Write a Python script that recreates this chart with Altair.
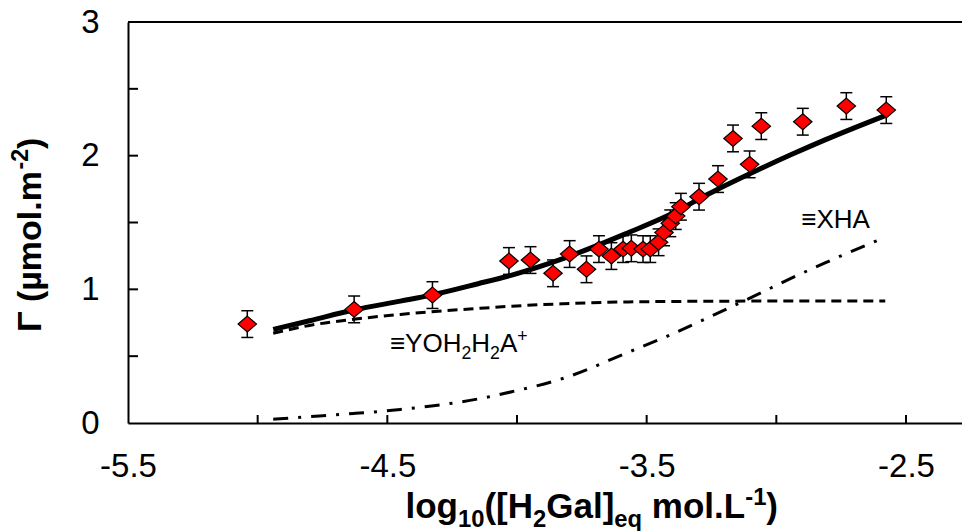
import altair as alt
import pandas as pd

FONT = "Liberation Sans"

# Measured surface excess (points with error bars)
obs_x = [-5.04, -4.628, -4.326, -4.031, -3.948, -3.861, -3.797, -3.732, -3.684,
         -3.636, -3.591, -3.559, -3.514, -3.486, -3.454, -3.433, -3.409, -3.388,
         -3.368, -3.298, -3.225, -3.167, -3.103, -3.058, -2.898, -2.730, -2.576]
obs_y = [0.74, 0.85, 0.957, 1.212, 1.219, 1.120, 1.264, 1.150, 1.301,
         1.249, 1.301, 1.307, 1.301, 1.301, 1.352, 1.426, 1.494, 1.548,
         1.618, 1.693, 1.825, 2.129, 1.935, 2.221, 2.254, 2.371, 2.341]
obs_err = [0.1, 0.1, 0.1, 0.1, 0.1, 0.1, 0.1, 0.1, 0.1,
           0.1, 0.1, 0.1, 0.1, 0.1, 0.1, 0.1, 0.1, 0.1,
           0.1, 0.1, 0.1, 0.1, 0.1, 0.1, 0.1, 0.1, 0.1]

# Surface complexation model: total and the two surface species
model_x = [-4.94, -4.80, -4.63, -4.45, -4.33, -4.15, -4.02, -3.82, -3.57,
           -3.42, -3.25, -3.08, -2.94, -2.81, -2.58]
model_total = [0.700, 0.765, 0.845, 0.912, 0.957, 1.042, 1.107, 1.232, 1.425,
               1.550, 1.725, 1.885, 2.010, 2.120, 2.300]
model_yoh = [0.671, 0.730, 0.776, 0.812, 0.832, 0.857, 0.874, 0.892, 0.906,
             0.909, 0.911, 0.912, 0.912, 0.912, 0.912]
model_xha = [0.028, 0.047, 0.071, 0.101, 0.127, 0.180, 0.234, 0.335, 0.530,
             0.650, 0.800, 0.955, 1.085, 1.200, 1.390]

x_label_values = [-5.5, -4.5, -3.5, -2.5]
x_tick_values = [-5.0, -4.5, -4.0, -3.5, -3.0, -2.5]
y_label_values = [0, 1, 2, 3]
y_tick_values = [0.5, 1.0, 1.5, 2.0, 2.5]

W, H = 834, 401
xs = alt.Scale(domain=[-5.5, -2.284], nice=False, zero=False)
ys = alt.Scale(domain=[0, 3], nice=False, zero=False)

x_axis = alt.Axis(values=x_label_values, labelExpr="toString(datum.value)",
                  ticks=False, tickSize=0, grid=False, domainColor="black",
                  domainWidth=2, labelFont=FONT, labelFontSize=33, labelColor="black",
                  labelPadding=53, labelBaseline="alphabetic", labelFlush=False,
                  labelOverlap=False, title=None)
y_axis = alt.Axis(values=y_label_values, ticks=False, tickSize=0, grid=False,
                  domainColor="black", domainWidth=2, labelFont=FONT,
                  labelFontSize=33, labelColor="black", labelPadding=29,
                  labelFlush=False, labelOverlap=False, title=None)


def X(f):
    return alt.X(f, type="quantitative", scale=xs, axis=x_axis)


def Y(f):
    return alt.Y(f, type="quantitative", scale=ys, axis=y_axis)


obs = pd.DataFrame({
    "x": obs_x, "y": obs_y,
    "lo": [v - e for v, e in zip(obs_y, obs_err)],
    "hi": [v + e for v, e in zip(obs_y, obs_err)],
})
model = pd.DataFrame({"x": model_x, "total": model_total,
                      "yoh": model_yoh, "xha": model_xha})

layers = []

# model curves
layers.append(alt.Chart(model).mark_line(color="black", strokeWidth=3,
              strokeDash=[15, 10, 3, 10], interpolate="monotone")
              .encode(x=X("x"), y=Y("xha")))
layers.append(alt.Chart(model).mark_line(color="black", strokeWidth=3,
              strokeDash=[10, 6], interpolate="monotone")
              .encode(x=X("x"), y=Y("yoh")))
layers.append(alt.Chart(model).mark_line(color="black", strokeWidth=5,
              interpolate="monotone")
              .encode(x=X("x"), y=Y("total")))

# error bars with caps
layers.append(alt.Chart(obs).mark_rule(color="black", strokeWidth=1.5)
              .encode(x=X("x"), y=Y("lo"), y2=alt.Y2("hi")))
for end in ("lo", "hi"):
    layers.append(alt.Chart(obs).mark_tick(orient="horizontal", size=12,
                  thickness=1.5, color="black", opacity=1)
                  .encode(x=X("x"), y=Y(end)))

# data points
layers.append(alt.Chart(obs).mark_point(shape="M0,-0.86L1,0L0,0.86L-1,0Z",
              size=340, filled=True, fill="#ff0000", stroke="black",
              strokeWidth=1.2, opacity=1)
              .encode(x=X("x"), y=Y("y")))

# inward ticks and top frame line
layers.append(alt.Chart(pd.DataFrame({"v": x_tick_values}))
              .mark_rule(color="black", strokeWidth=2)
              .encode(x=X("v"), y=alt.value(H), y2=alt.value(H - 8)))
layers.append(alt.Chart(pd.DataFrame({"v": y_tick_values}))
              .mark_rule(color="black", strokeWidth=2)
              .encode(y=Y("v"), x=alt.value(0), x2=alt.value(10)))
layers.append(alt.Chart(pd.DataFrame({"v": [0]}))
              .mark_rule(color="black", strokeWidth=2)
              .encode(x=alt.value(0), x2=alt.value(W), y=alt.value(0)))

# glyph advance widths (per 1000 em) for rich-text layout
BOLD_W = {"l": 278, "o": 611, "g": 611, "1": 556, "0": 556, "(": 333, "[": 333,
          "H": 722, "2": 556, "G": 778, "a": 556, "]": 333, "e": 556, "q": 611,
          " ": 278, "m": 889, ".": 278, "L": 611, "-": 333, ")": 333,
          "Γ": 611, "µ": 611}
REG_W = {"≡": 584, "Y": 667, "O": 778, "H": 722, "2": 556, "A": 667,
         "+": 584, "X": 667}


def rich_text(segments, size, bold, data, enc, angle=0):
    """Lay out text runs (normal / sub / sup / space) one after another."""
    table = BOLD_W if bold else REG_W
    out = []
    adv = 0.0
    for text, kind in segments:
        if kind == "space":
            adv += table[" "] * size / 1000.0
            continue
        fs = size if kind == "n" else size * 0.68
        dy = 0 if kind == "n" else (0.25 * size if kind == "sub" else -0.38 * size)
        props = dict(text=text, font=FONT, fontSize=fs, align="left",
                     baseline="alphabetic", dx=adv, dy=dy, color="black")
        if bold:
            props["fontWeight"] = "bold"
        if angle:
            props["angle"] = angle
        out.append(alt.Chart(data).mark_text(**props).encode(**enc))
        adv += sum(table[c] for c in text) * fs / 1000.0
    return out


one = pd.DataFrame({"k": [0]})

# x-axis title
layers += rich_text([("log", "n"), ("10", "sub"), ("([H", "n"), ("2", "sub"),
                     ("Gal]", "n"), ("eq", "sub"), ("", "space"), ("mol.L", "n"),
                     ("-1", "sup"), (")", "n")],
                    35, True, one, dict(x=alt.value(277.5), y=alt.value(496)))

# y-axis title (rotated)
layers += rich_text([("Γ (µmol.m", "n"), ("-2", "sup"), (")", "n")],
                    34, True, one, dict(x=alt.value(-87), y=alt.value(310)),
                    angle=270)

# species labels
yoh_pos = pd.DataFrame({"x": [-4.49], "y": [0.531]})
layers += rich_text([("≡YOH", "n"), ("2", "sub"), ("H", "n"), ("2", "sub"),
                     ("A", "n"), ("+", "sup")],
                    26, False, yoh_pos, dict(x=X("x"), y=Y("y")))
xha_pos = pd.DataFrame({"x": [-2.904], "y": [1.458]})
layers += rich_text([("≡XHA", "n")], 26, False, xha_pos, dict(x=X("x"), y=Y("y")))

chart = (alt.layer(*layers)
         .properties(width=W, height=H, background="white",
                     autosize=alt.AutoSizeParams(type="none"),
                     padding={"left": 128, "top": 22, "right": 0, "bottom": 108})
         .configure_view(stroke=None))

chart.save("out.html", embed_options={"renderer": "svg", "actions": False})
